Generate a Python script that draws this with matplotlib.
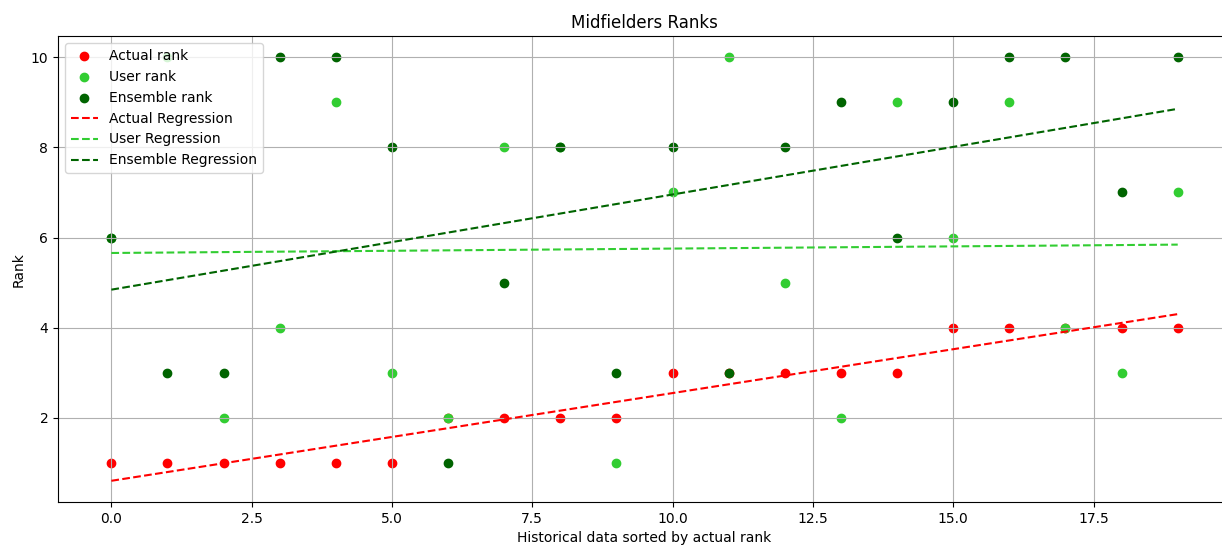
import numpy as np
import matplotlib.pyplot as plt

# Ranks per historical game, sorted by actual rank
actual_rank = [1, 1, 1, 1, 1, 1, 2, 2, 2, 2, 3, 3, 3, 3, 3, 4, 4, 4, 4, 4]
user_rank = [6, 10, 2, 4, 9, 3, 2, 8, 8, 1, 7, 10, 5, 2, 9, 6, 9, 4, 3, 7]
ensemble_rank = [6, 3, 3, 10, 10, 8, 1, 5, 8, 3, 8, 3, 8, 9, 6, 9, 10, 10, 7, 10]

x = np.arange(len(actual_rank))

fig, ax = plt.subplots(figsize=(12.22, 5.48), dpi=100)

ax.scatter(x, actual_rank, color='red', label='Actual rank')
ax.scatter(x, user_rank, color='limegreen', label='User rank')
ax.scatter(x, ensemble_rank, color='darkgreen', label='Ensemble rank')

# Linear regression lines
for ranks, col, name in [(actual_rank, 'red', 'Actual Regression'),
                         (user_rank, 'limegreen', 'User Regression'),
                         (ensemble_rank, 'darkgreen', 'Ensemble Regression')]:
    m, b = np.polyfit(x, ranks, 1)
    ax.plot(x, m * x + b, linestyle='--', color=col, label=name)

ax.set_title('Midfielders Ranks')
ax.set_xlabel('Historical data sorted by actual rank')
ax.set_ylabel('Rank')
ax.grid(True)
ax.legend(loc='upper left')

# the original figure looks cropped on the right edge
plt.subplots_adjust(left=0.0475, right=1.0074, top=0.934, bottom=0.084)
plt.savefig('out.png')
